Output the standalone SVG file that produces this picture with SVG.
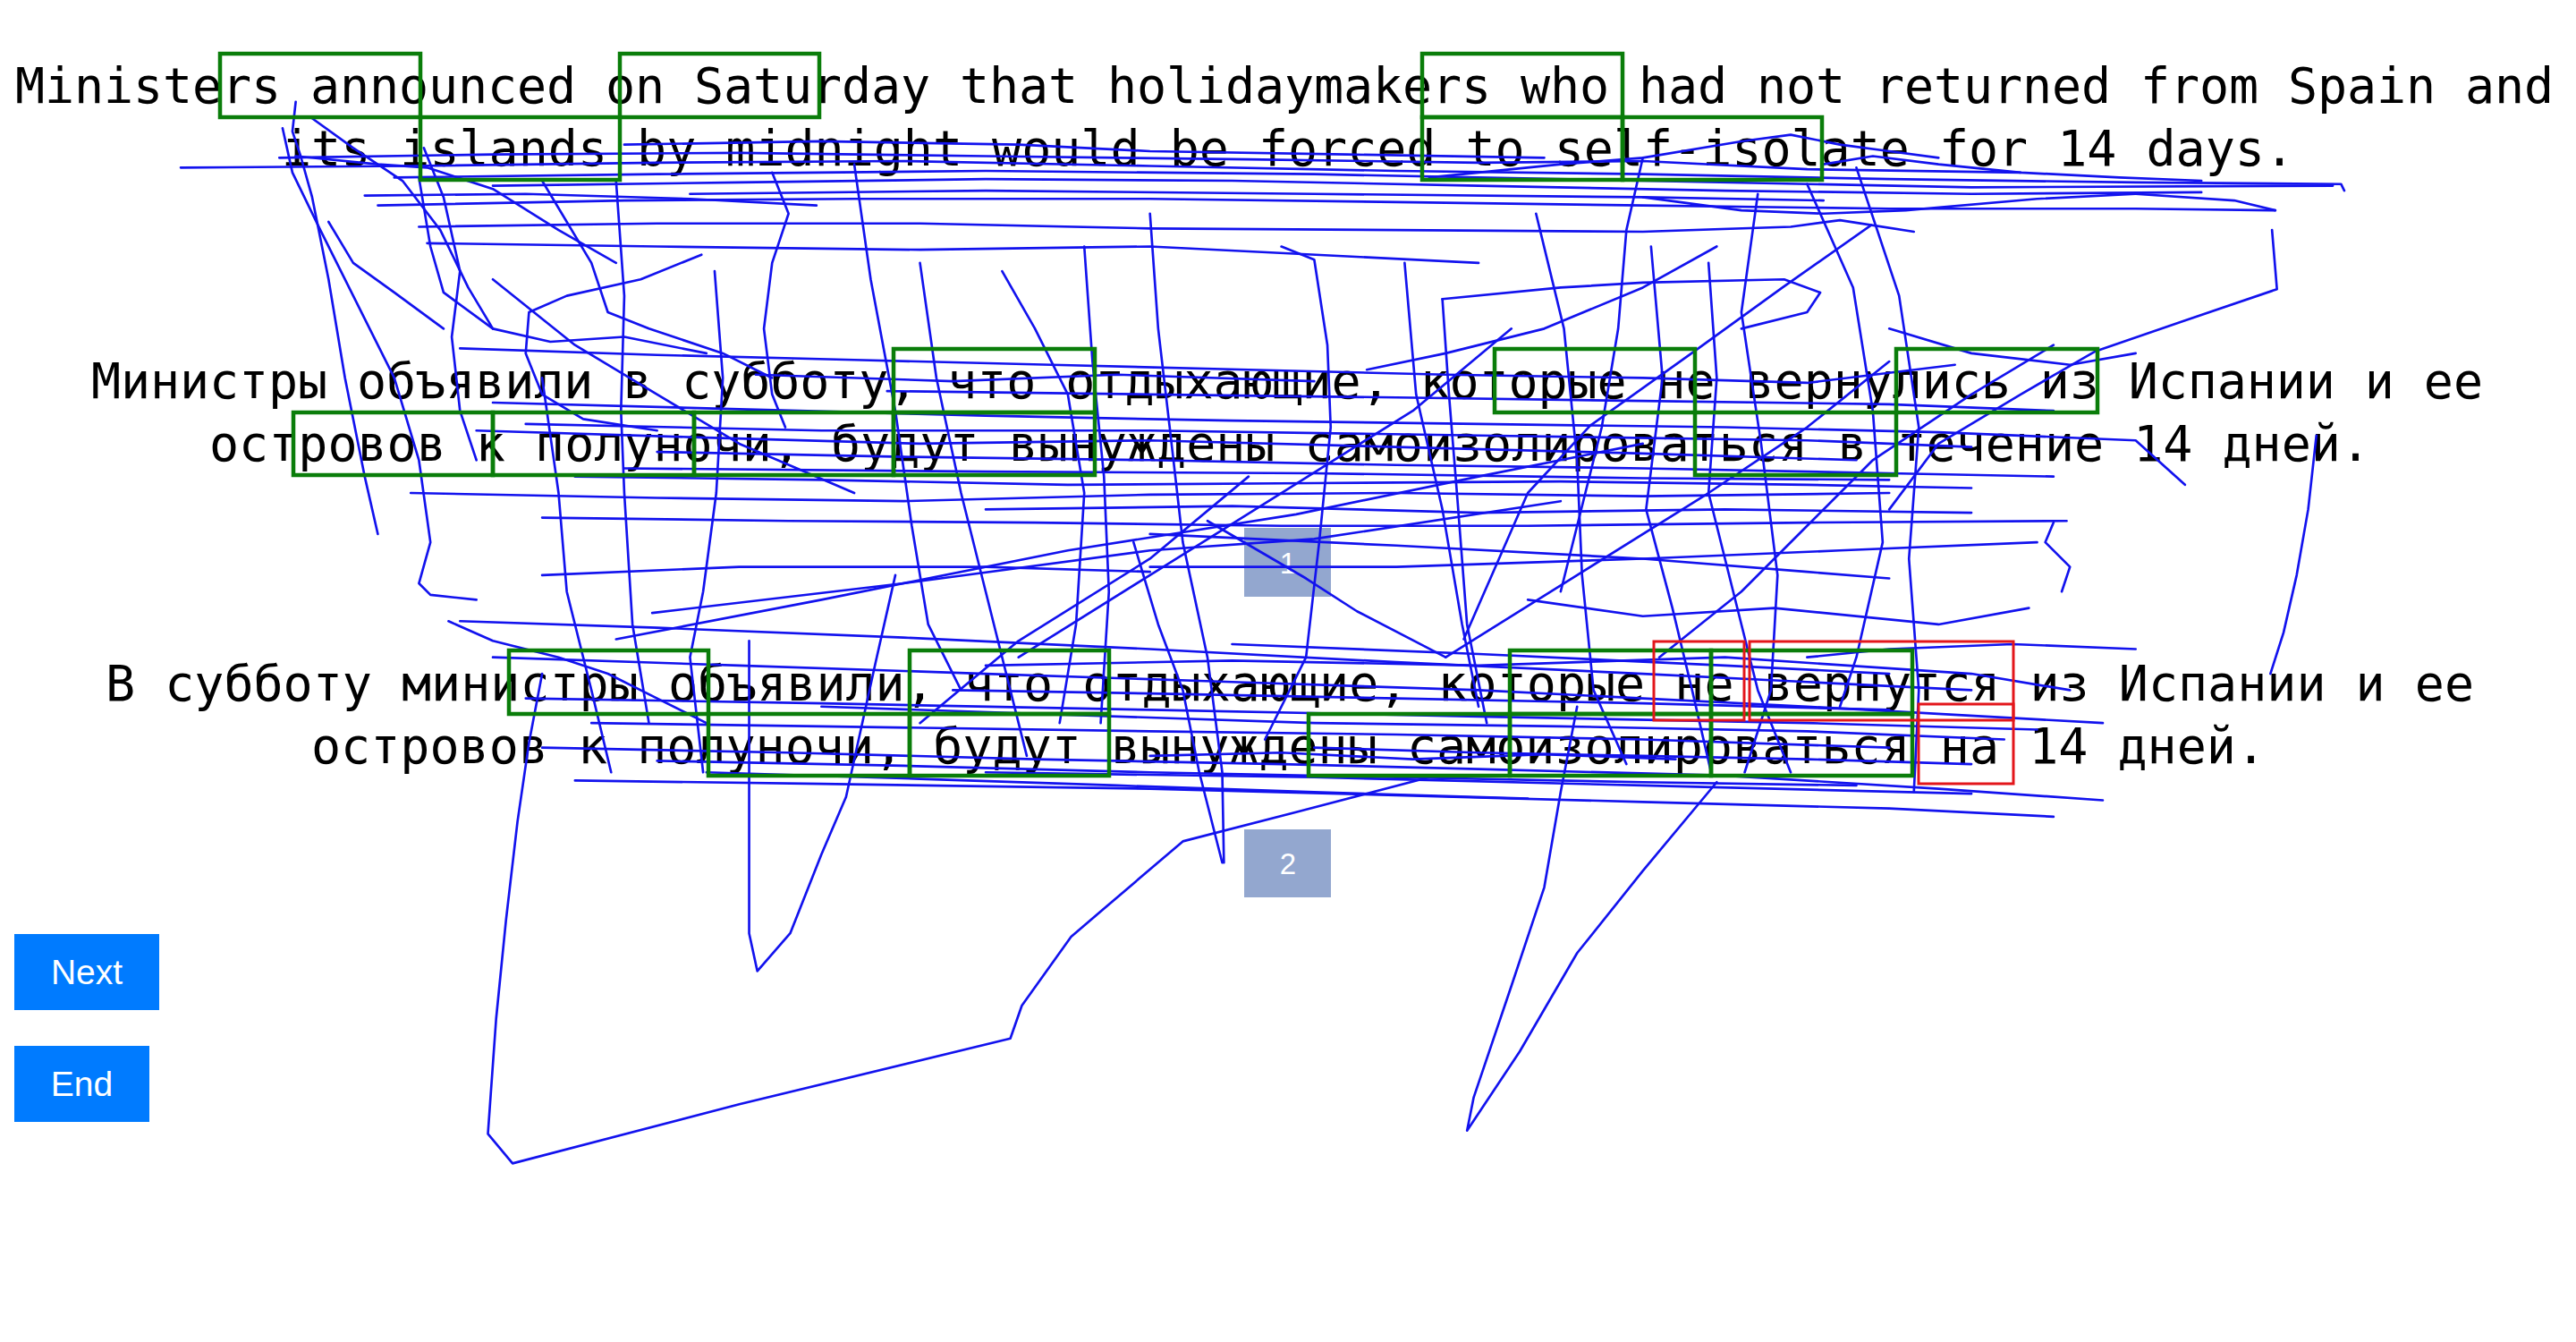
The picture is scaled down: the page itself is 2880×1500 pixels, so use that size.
<svg xmlns="http://www.w3.org/2000/svg" width="2880" height="1500" viewBox="0 0 2880 1500">
<style>
.t{font-family:"DejaVu Sans Mono",monospace;font-size:55px;fill:#000}
.g{fill:none;stroke:#0a7d0a;stroke-width:4.5}
.r{fill:none;stroke:#e3161b;stroke-width:3}
.lab{fill:#93a7cf}
.labt{font-family:"Liberation Sans",Arial,sans-serif;font-size:33px;fill:#fff;text-anchor:middle}
.btn{fill:#007bff}
.btnt{font-family:"Liberation Sans",Arial,sans-serif;font-size:39px;fill:#fff;text-anchor:middle}
.s polyline{fill:none;stroke:#1212ee;stroke-width:1.45;stroke-linejoin:round;stroke-linecap:round}
</style>
<rect width="2880" height="1500" fill="#fff"/>
<g id="source-text">
<text class="t" x="17" y="115" textLength="2838" lengthAdjust="spacing">Ministers announced on Saturday that holidaymakers who had not returned from Spain and</text>
<text class="t" x="315" y="185" textLength="2250" lengthAdjust="spacing">its islands by midnight would be forced to self-isolate for 14 days.</text>
</g>
<g id="translation-1">
<text class="t" x="102" y="445" textLength="2674" lengthAdjust="spacing">Министры объявили в субботу, что отдыхающие, которые не вернулись из Испании и ее</text>
<text class="t" x="234" y="515" textLength="2416" lengthAdjust="spacing">островов к полуночи, будут вынуждены самоизолироваться в течение 14 дней.</text>
</g>
<g id="translation-2">
<text class="t" x="118" y="783" textLength="2648" lengthAdjust="spacing">В субботу министры объявили, что отдыхающие, которые не вернутся из Испании и ее</text>
<text class="t" x="348" y="853" textLength="2185" lengthAdjust="spacing">островов к полуночи, будут вынуждены самоизолироваться на 14 дней.</text>
</g>
<g id="label-1"><rect class="lab" x="1391" y="590" width="97" height="77"/><text class="labt" x="1440" y="641">1</text></g>
<g id="label-2"><rect class="lab" x="1391" y="927" width="97" height="76"/><text class="labt" x="1440" y="977">2</text></g>
<g id="connectors" class="s" transform="scale(1.8367)">
<polyline points="110,102 250,101 400,99 550,98 700,101 850,104 1000,106 1150,109 1300,111 1425,112 1427,116"/>
<polyline points="170,96 300,94 450,93 600,95 760,97 900,99 1000,98 1100,103 1230,105"/>
<polyline points="230,125 380,122 520,121 700,121 850,123 1000,125 1150,127 1300,127 1385,128"/>
<polyline points="255,138 400,136 560,136 700,139 850,140 1000,141 1090,138 1120,134 1165,141"/>
<polyline points="300,113 450,111 600,109 750,110 900,113 1050,116 1200,118 1340,117"/>
<polyline points="240,108 400,106 600,104 800,106 1000,110 1200,114 1420,113"/>
<polyline points="380,88 500,86 620,88 700,92 820,94 940,96"/>
<polyline points="420,118 600,116 800,118 1000,120 1110,122"/>
<polyline points="222,119 320,118 420,121 497,125"/>
<polyline points="870,108 950,100 1000,96 1060,86 1090,82 1120,88 1150,92 1180,96"/>
<polyline points="1000,120 1060,128 1110,130 1160,128 1240,121 1300,118"/>
<polyline points="1110,100 1140,95 1180,100 1230,105 1290,108 1340,110"/>
<polyline points="1300,118 1360,122 1385,128"/>
<polyline points="260,148 400,150 560,152 700,150 820,156 900,160"/>
<polyline points="180,62 178,80 183,95 190,120 200,170 210,230 222,290 230,325"/>
<polyline points="172,78 178,105 195,140 215,180 240,230 255,280 262,330 255,355 262,362 290,365"/>
<polyline points="190,72 215,90 245,110 268,140 285,175 300,200 335,208 380,205 430,215"/>
<polyline points="255,108 262,150 270,178 300,200"/>
<polyline points="427,155 390,170 345,180 322,190 320,215 330,240 355,255 400,262"/>
<polyline points="200,135 215,160 240,178 270,200"/>
<polyline points="258,90 270,120 280,165 275,205 280,250 290,280"/>
<polyline points="330,110 360,160 370,190 395,200 440,215 470,230"/>
<polyline points="180,95 230,100 260,102 300,115 340,140 375,160"/>
<polyline points="470,105 480,130 470,160 465,200 470,240 478,260"/>
<polyline points="375,110 380,180 378,250 380,300 385,380 395,440"/>
<polyline points="435,165 440,230 436,300 428,360 420,400 428,470"/>
<polyline points="520,100 530,170 545,250 555,320 565,380 585,420"/>
<polyline points="610,165 630,200 650,240 660,300 655,380 645,440"/>
<polyline points="660,150 665,220 672,290 675,360 670,440"/>
<polyline points="780,150 800,158 808,210 810,260 803,330 795,400 770,450"/>
<polyline points="855,160 862,240 878,310 890,380 900,430"/>
<polyline points="935,130 952,200 960,280 963,350 970,420 990,465"/>
<polyline points="1005,150 1012,230 1002,310 1018,370 1030,420 1042,472"/>
<polyline points="1070,118 1060,190 1072,270 1082,350 1078,420 1062,470"/>
<polyline points="1100,112 1128,175 1140,250 1146,330 1130,400 1120,430"/>
<polyline points="1130,102 1156,180 1168,260 1162,340 1168,420 1165,482"/>
<polyline points="878,182 882,240 887,302 893,380 905,440"/>
<polyline points="1000,96 990,140 985,200 975,260 960,320 950,360"/>
<polyline points="700,130 705,200 712,260 720,330 735,400 744,470 745,525"/>
<polyline points="560,160 570,230 585,300 600,360 615,420 625,460"/>
<polyline points="330,230 340,300 345,360 360,420 372,470"/>
<polyline points="1040,160 1045,230 1040,300 1055,360 1070,420 1090,470"/>
<polyline points="1139,137 1085,175 1031,214 968,259 930,300 891,389"/>
<polyline points="1045,150 1000,175 940,200 880,215 832,225"/>
<polyline points="1383,140 1386,176 1330,195 1275,214 1230,240 1180,270 1150,310"/>
<polyline points="1410,265 1405,310 1398,350 1390,385 1382,410"/>
<polyline points="878,182 950,175 1000,172 1086,170 1108,178 1100,190 1060,200"/>
<polyline points="735,317 795,352 826,372 880,400"/>
<polyline points="375,389 500,365 650,335 789,313 900,290 1000,270"/>
<polyline points="397,373 550,355 700,335 800,328 950,305"/>
<polyline points="880,400 960,350 1040,300 1100,260 1150,220"/>
<polyline points="620,400 700,350 780,300 860,250 920,200"/>
<polyline points="1010,400 1060,360 1100,320 1140,280 1200,240 1250,210"/>
<polyline points="560,440 620,390 700,340 760,290"/>
<polyline points="300,170 350,210 400,240 450,270 520,300"/>
<polyline points="1150,200 1200,215 1260,222 1300,215"/>
<polyline points="1250,318 1245,330 1260,345 1255,360"/>
<polyline points="330,410 322,452 315,500 308,560 302,620 297,690 312,708 450,672 615,632 622,612 652,570 720,512 790,494 870,473"/>
<polyline points="1045,476 1000,530 960,580 925,640 893,688 897,668 920,600 940,540 950,482 960,430"/>
<polyline points="456,390 456,480 456,568 461,591 481,568 500,520 515,485 533,403 545,350"/>
<polyline points="690,330 705,380 720,420 730,470 744,525"/>
<polyline points="280,212 400,216 520,219 640,222 760,225 880,228 1000,230 1100,233 1190,222"/>
<polyline points="300,245 450,249 600,253 750,256 900,258 1050,260 1180,263 1300,268 1330,295"/>
<polyline points="250,300 400,303 550,305 700,301 850,300 1000,302 1150,300"/>
<polyline points="330,315 480,317 630,318 780,320 930,320 1100,318 1258,317"/>
<polyline points="400,275 550,278 700,280 850,283 1000,285 1150,288 1250,290"/>
<polyline points="350,290 500,292 650,295 800,294 950,293 1100,295 1200,297"/>
<polyline points="320,258 500,262 700,262 900,265 1100,268 1200,272"/>
<polyline points="380,285 600,287 800,288 1000,291 1150,292"/>
<polyline points="700,325 850,332 1000,340 1100,348 1150,352"/>
<polyline points="700,345 850,345 1000,340 1120,335 1240,330"/>
<polyline points="290,262 420,266 560,270 700,268 850,272 1000,276 1130,280"/>
<polyline points="540,238 700,240 860,242 1000,244 1150,246 1250,250"/>
<polyline points="460,228 580,232 680,228 800,232"/>
<polyline points="600,310 750,308 900,312 1050,310 1200,312"/>
<polyline points="330,350 450,345 600,345 700,348"/>
<polyline points="930,365 1000,375 1080,370 1180,380 1235,370"/>
<polyline points="280,378 400,382 550,388 700,395 850,403 1000,410 1100,415 1200,420"/>
<polyline points="300,400 450,405 600,410 750,415 900,420 1000,425 1100,430 1280,440"/>
<polyline points="330,455 480,458 630,462 780,465 900,468 1050,472 1180,480 1280,487"/>
<polyline points="350,475 500,477 700,480 850,484 1000,488 1150,492 1250,497"/>
<polyline points="360,440 500,442 700,445 850,447 1000,450 1150,455"/>
<polyline points="500,430 650,435 800,440 950,442 1100,445 1220,450"/>
<polyline points="580,420 700,422 850,425 1000,428 1150,432"/>
<polyline points="320,425 500,428 700,432 900,436 1100,440 1240,444"/>
<polyline points="600,470 800,473 1000,478 1200,483"/>
<polyline points="750,392 900,398 1050,405 1150,410"/>
<polyline points="273,378 300,390 340,400 370,410 400,425 430,440"/>
<polyline points="400,463 550,466 700,470 850,473 1000,476 1130,478"/>
<polyline points="600,405 750,402 900,405 1050,400 1200,410 1260,420"/>
<polyline points="800,455 900,458 1000,460 1100,462 1200,465"/>
<polyline points="430,470 560,474 680,478 800,482 930,486"/>
<polyline points="1100,400 1150,395 1225,392 1300,395"/>
<polyline points="700,460 780,458 860,462 940,459 1020,462"/>
</g>
<g id="source-boxes">
<rect class="g" x="246" y="60" width="224" height="71"/>
<rect class="g" x="693" y="60" width="223" height="71"/>
<rect class="g" x="470" y="131" width="223" height="70"/>
<rect class="g" x="1590" y="60" width="224" height="71"/>
<rect class="g" x="1590" y="131" width="224" height="70"/>
<rect class="g" x="1814" y="131" width="223" height="70"/>
</g>
<g id="translation-1-boxes">
<rect class="g" x="999" y="390" width="225" height="71"/>
<rect class="g" x="1671" y="390" width="224" height="71"/>
<rect class="g" x="2120" y="390" width="225" height="71"/>
<rect class="g" x="328" y="461" width="223" height="70"/>
<rect class="g" x="551" y="461" width="225" height="70"/>
<rect class="g" x="776" y="461" width="223" height="70"/>
<rect class="g" x="999" y="461" width="225" height="70"/>
<rect class="g" x="1895" y="461" width="225" height="70"/>
</g>
<g id="translation-2-boxes">
<rect class="g" x="569" y="727" width="223" height="71"/>
<rect class="g" x="1017" y="727" width="223" height="71"/>
<rect class="g" x="1688" y="727" width="225" height="71"/>
<rect class="g" x="1913" y="727" width="225" height="71"/>
<rect class="g" x="792" y="798" width="225" height="69"/>
<rect class="g" x="1017" y="798" width="223" height="69"/>
<rect class="g" x="1463" y="798" width="225" height="69"/>
<rect class="g" x="1688" y="798" width="225" height="69"/>
<rect class="g" x="1913" y="798" width="225" height="69"/>
<rect class="r" x="1849" y="717" width="101" height="88"/>
<rect class="r" x="1956" y="717" width="295" height="88"/>
<rect class="r" x="2145" y="787" width="106" height="89"/>
</g>
<g id="btn-next"><rect class="btn" x="16" y="1044" width="162" height="85"/><text class="btnt" x="97" y="1100">Next</text></g>
<g id="btn-end"><rect class="btn" x="16" y="1169" width="151" height="85"/><text class="btnt" x="91.5" y="1225">End</text></g>
</svg>
